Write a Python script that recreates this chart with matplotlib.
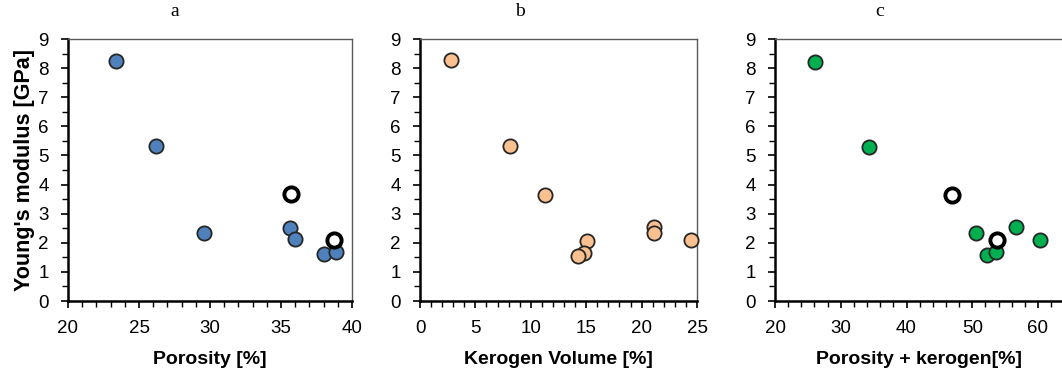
import matplotlib
matplotlib.use("Agg")
import matplotlib.pyplot as plt
from matplotlib.ticker import MultipleLocator

# Data
porosity = [23.4, 26.2, 29.6, 35.6, 36.0, 38.0, 38.9]
young_a = [8.25, 5.34, 2.35, 2.52, 2.12, 1.60, 1.69]
porosity_open = [35.7, 38.7]
young_a_open = [3.67, 2.11]

kerogen = [2.8, 8.1, 11.3, 15.1, 14.8, 14.3, 21.15, 21.1, 24.5]
young_b = [8.28, 5.34, 3.65, 2.07, 1.66, 1.56, 2.53, 2.34, 2.09]

por_ker = [26.1, 34.3, 50.6, 56.6, 60.3, 52.2, 53.6]
young_c = [8.22, 5.30, 2.34, 2.53, 2.09, 1.57, 1.67]
por_ker_open = [46.9, 53.7]
young_c_open = [3.65, 2.09]

titles = ["a", "b", "c"]
xlabels = ["Porosity [%]", "Kerogen Volume [%]", "Porosity + kerogen[%]"]
ylabel = "Young's modulus [GPa]"

W, H = 1062, 375
fig = plt.figure(figsize=(W / 100, H / 100), dpi=100)
plt.rcParams["font.family"] = ["Liberation Sans", "DejaVu Sans"]

boxes = [(68, 352), (420, 697), (775, 1062)]
top_px, bot_px = 39, 301


def style_axes(ax, xlim, xmajor, xminor, right_spine=True):
    ax.set_xlim(*xlim)
    ax.set_ylim(0, 9)
    ax.xaxis.set_major_locator(MultipleLocator(xmajor))
    ax.xaxis.set_minor_locator(MultipleLocator(xminor))
    ax.yaxis.set_major_locator(MultipleLocator(1))
    ax.yaxis.set_minor_locator(MultipleLocator(0.5))
    ax.tick_params(which="major", direction="out", length=5, width=1.2,
                   top=False, right=False, labelsize=13.5, pad=9)
    ax.tick_params(which="minor", direction="out", length=4, width=1.0,
                   top=False, right=False)
    for s in ["left", "bottom"]:
        ax.spines[s].set_color("black")
        ax.spines[s].set_linewidth(1.8)
    for s in ["top", "right"]:
        ax.spines[s].set_color("#595959")
        ax.spines[s].set_linewidth(1.0)
    if not right_spine:
        ax.spines["right"].set_visible(False)


axes = []
for (l, r) in boxes:
    ax = fig.add_axes([l / W, 1 - bot_px / H, (r - l) / W, (bot_px - top_px) / H])
    axes.append(ax)

ms = 105
edge = "#262626"

ax = axes[0]
ax.scatter(porosity, young_a, s=ms, c="#4F81BD", edgecolors=edge, linewidths=1.3, zorder=3)
ax.scatter(porosity_open, young_a_open, s=ms, c="white", edgecolors="black", linewidths=2.8, zorder=3)
style_axes(ax, (20, 40), 5, 1)
ax.set_ylabel(ylabel, fontsize=15.5, fontweight="bold", va="center")
ax.yaxis.set_label_coords((25 - 68) / 284, 0.5)

ax = axes[1]
ax.scatter(kerogen, young_b, s=ms, c="#FAC090", edgecolors=edge, linewidths=1.3, zorder=3,
           clip_on=False)
style_axes(ax, (0, 25), 5, 1)

ax = axes[2]
ax.scatter(por_ker, young_c, s=ms, c="#00B050", edgecolors=edge, linewidths=1.3, zorder=3)
ax.scatter(por_ker_open, young_c_open, s=ms, c="white", edgecolors="black", linewidths=2.8, zorder=3)
style_axes(ax, (20, 20 + (1062 - 775) / 6.575), 10, 2, right_spine=False)

for ax, xl in zip(axes, xlabels):
    ax.set_xlabel(xl, fontsize=14, fontweight="bold", va="center")
    ax.xaxis.set_label_coords(0.5, (301 - 360) / 262)

title_x = [175, 520, 880]
for t, x in zip(titles, title_x):
    fig.text(x / W, 1 - 12 / H, t, ha="center", va="center",
             fontsize=14, family="Liberation Serif")

fig.savefig("out.png", dpi=100)
